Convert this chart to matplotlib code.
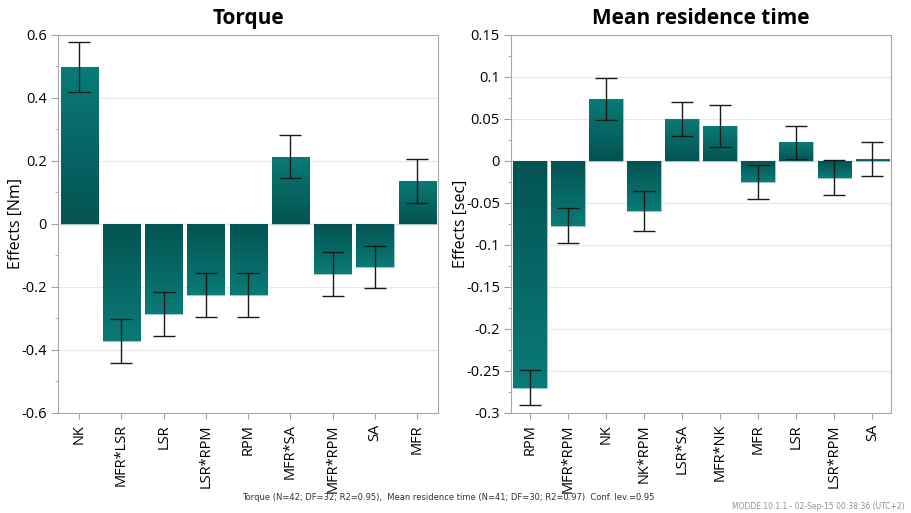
import numpy as np
import matplotlib.pyplot as plt
from matplotlib.colors import LinearSegmentedColormap

plt.rcParams['font.family'] = ['Open Sans', 'DejaVu Sans']
plt.rcParams['axes.unicode_minus'] = False

# Torque
torque_terms = ['NK', 'MFR*LSR', 'LSR', 'LSR*RPM', 'RPM', 'MFR*SA', 'MFR*RPM', 'SA', 'MFR']
torque_eff = [0.497, -0.371, -0.286, -0.225, -0.225, 0.214, -0.159, -0.137, 0.137]
torque_err = [0.079, 0.069, 0.070, 0.069, 0.069, 0.069, 0.069, 0.067, 0.070]

# Mean residence time
mrt_terms = ['RPM', 'MFR*RPM', 'NK', 'NK*RPM', 'LSR*SA', 'MFR*NK', 'MFR', 'LSR', 'LSR*RPM', 'SA']
mrt_eff = [-0.270, -0.077, 0.074, -0.060, 0.050, 0.041, -0.025, 0.022, -0.020, 0.002]
mrt_err = [0.021, 0.021, 0.025, 0.024, 0.020, 0.025, 0.020, 0.020, 0.021, 0.020]

cmap = LinearSegmentedColormap.from_list('teal', ['#035352', '#0a7b77'])
grad = np.linspace(0, 1, 256).reshape(-1, 1)


def fmt(v, p):
    if abs(v) < 1e-9:
        return '0'
    return '%g' % round(v, 3)


def effect_plot(ax, terms, eff, err, title, ylabel, ylim, major, minor, label_x):
    x = np.arange(len(terms))
    bars = ax.bar(x, eff, width=0.88, color='#06625f', edgecolor='#9fc9c6', linewidth=0.8, zorder=2)
    # gradient: dark at zero, lighter at bar tip
    for b, v in zip(bars, eff):
        x0 = b.get_x()
        w = b.get_width()
        img = grad if v >= 0 else grad[::-1]
        im = ax.imshow(img, cmap=cmap, aspect='auto', origin='lower', interpolation='bilinear',
                       extent=[x0, x0 + w, min(0, v), max(0, v)], zorder=2.5)
        im.set_clip_path(b)
    ax.errorbar(x, eff, yerr=err, fmt='none', ecolor='#1a1a1a', elinewidth=1, capsize=8, capthick=1, zorder=3)
    ax.set_xlim(-0.5, len(terms) - 0.5)
    ax.set_ylim(ylim)
    ax.set_yticks(np.arange(ylim[0], ylim[1] + major / 2, major))
    ax.set_yticks(np.arange(ylim[0], ylim[1] + minor / 2, minor), minor=True)
    ax.yaxis.set_major_formatter(plt.FuncFormatter(fmt))
    ax.set_xticks(x)
    ax.set_xticklabels(terms, rotation=90, fontsize=10.5)
    ax.tick_params(axis='y', labelsize=10.5, color='#a0a0a0', length=5, pad=3)
    ax.tick_params(axis='y', which='minor', color='#a0a0a0', length=2.5)
    ax.tick_params(axis='x', color='#a0a0a0', length=4, pad=4)
    ax.grid(axis='y', color='#e8e8e8', linewidth=0.8, zorder=0)
    ax.axhline(0, color='#a0a0a0', linewidth=0.8, zorder=1)
    for s in ax.spines.values():
        s.set_color('#a8a8a8')
    ax.set_title(title, fontsize=15, fontweight='bold', pad=8)
    ax.set_ylabel(ylabel, fontsize=11.5, va='center')
    ax.yaxis.set_label_coords(label_x, 0.5)


fig = plt.figure(figsize=(9.12, 5.13), dpi=100)
ax1 = fig.add_axes([0.0636, 0.195, 0.417, 0.737])
ax2 = fig.add_axes([0.5603, 0.195, 0.417, 0.737])

effect_plot(ax1, torque_terms, torque_eff, torque_err, 'Torque', 'Effects [Nm]', (-0.6, 0.6), 0.2, 0.1, -0.11)
effect_plot(ax2, mrt_terms, mrt_eff, mrt_err, 'Mean residence time', 'Effects [sec]', (-0.3, 0.15), 0.05, 0.025, -0.132)

fig.text(0.265, 0.025, 'Torque (N=42; DF=32; R2=0.95),  Mean residence time (N=41; DF=30; R2=0.97)  Conf. lev.=0.95',
         fontsize=6, color='#333333', family=['Liberation Sans Narrow', 'DejaVu Sans'])
fig.text(0.992, 0.008, 'MODDE 10.1.1 - 02-Sep-15 00:38:36 (UTC+2)', fontsize=5.5, color='#909090', ha='right',
         family=['Liberation Sans Narrow', 'DejaVu Sans'])

fig.savefig('out.png', dpi=100)
